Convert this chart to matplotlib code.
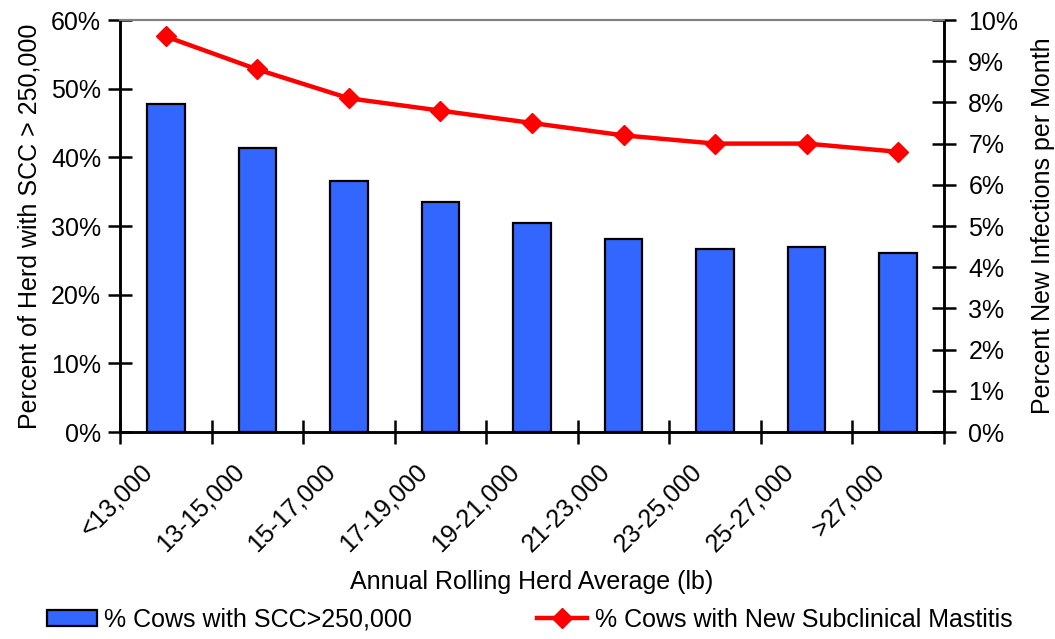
import matplotlib
matplotlib.use("Agg")
import matplotlib.pyplot as plt
import numpy as np
from matplotlib.ticker import FuncFormatter, FixedLocator
from matplotlib.transforms import ScaledTranslation

plt.rcParams['font.family'] = ['Liberation Sans', 'DejaVu Sans']

categories = ["<13,000", "13-15,000", "15-17,000", "17-19,000", "19-21,000",
              "21-23,000", "23-25,000", "25-27,000", ">27,000"]
scc_pct = [47.8, 41.4, 36.6, 33.5, 30.4, 28.1, 26.6, 27.0, 26.1]
new_infection_pct = [9.6, 8.8, 8.1, 7.8, 7.5, 7.2, 7.0, 7.0, 6.8]

W, H = 1055, 639
fig = plt.figure(figsize=(W / 100, H / 100), dpi=100)
ax = fig.add_axes([120 / W, (H - 432) / H, 824 / W, 412 / H])
ax2 = ax.twinx()

x = np.arange(len(categories))
fs = 18

bars = ax.bar(x, scc_pct, width=0.41, color="#3366FF", edgecolor="black",
              linewidth=1.6, label="% Cows with SCC>250,000", zorder=2)
line, = ax2.plot(x, new_infection_pct, color="#FF0000", linewidth=3.2,
                 marker="D", markersize=10.5, label="% Cows with New Subclinical Mastitis",
                 zorder=3)

ax.set_xlim(-0.5, len(categories) - 0.5)
ax.set_ylim(0, 60)
ax2.set_ylim(0, 10)

ax.set_yticks(np.arange(0, 61, 10))
ax2.set_yticks(np.arange(0, 11, 1))
ax.yaxis.set_major_formatter(FuncFormatter(lambda v, p: f"{v:.0f}%"))
ax2.yaxis.set_major_formatter(FuncFormatter(lambda v, p: f"{v:.0f}%"))

# category labels centred under bars, tick marks at category boundaries
ax.set_xticks(x)
ax.set_xticklabels(categories, rotation=45, ha="right", va="center",
                   rotation_mode="anchor", fontsize=fs)
ax.tick_params(axis="x", which="major", length=0, pad=26)
shift = ScaledTranslation(-0.17, 0, fig.dpi_scale_trans)
for lbl in ax.get_xticklabels():
    lbl.set_transform(lbl.get_transform() + shift)
ax.xaxis.set_minor_locator(FixedLocator(np.arange(-0.5, len(categories), 1.0)))
ax.tick_params(axis="x", which="minor", direction="inout", length=17, width=1.8)

ax.tick_params(axis="y", direction="inout", length=17, width=1.8, labelsize=fs, pad=5)
ax2.tick_params(axis="y", direction="inout", length=17, width=1.8, labelsize=fs, pad=9)

for a in (ax, ax2):
    a.spines["top"].set_color("#808080")
    a.spines["top"].set_linewidth(1.5)
    for s in ("left", "right", "bottom"):
        a.spines[s].set_linewidth(1.8)
        a.spines[s].set_color("black")

ax.set_ylabel("Percent of Herd with SCC > 250,000", fontsize=fs, labelpad=7)
ax2.set_ylabel("Percent New Infections per Month", fontsize=fs, labelpad=9)
ax.set_xlabel("Annual Rolling Herd Average (lb)", fontsize=fs, labelpad=10)

fig.legend([bars, line], [bars.get_label(), line.get_label()], loc="lower left",
           bbox_to_anchor=(32 / W, -0.012), ncol=2, frameon=False, fontsize=fs,
           handlelength=2.0, handleheight=0.65, handletextpad=0.3, columnspacing=5.0,
           borderaxespad=0.2)

fig.savefig("out.png", dpi=100)
